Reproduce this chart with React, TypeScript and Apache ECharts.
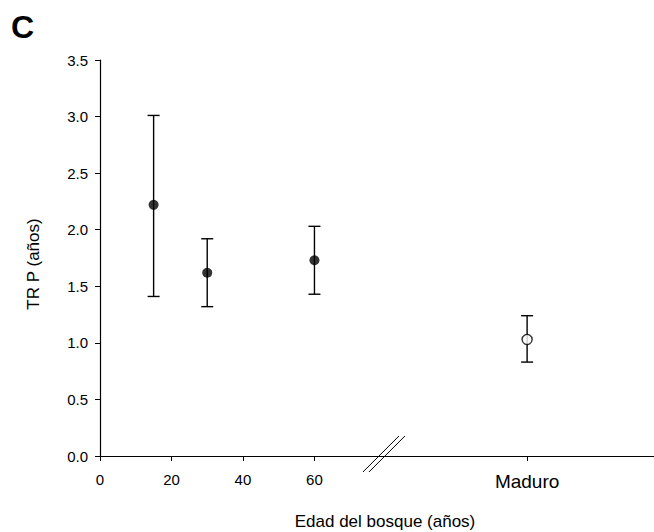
import React, { useEffect, useRef } from "react";
import * as echarts from "echarts";

// Data
const ages = [15, 30, 60];
const youngMean = [2.22, 1.62, 1.73];
const youngLow = [1.41, 1.32, 1.43];
const youngHigh = [3.01, 1.92, 2.03];
const maduroPos = 119.5;
const maduroMean = [1.03];
const maduroLow = [0.83];
const maduroHigh = [1.24];
const xTickValues = [0, 20, 40, 60, maduroPos];
const breakAt = 80;

const FONT = "Liberation Sans, Arial, Helvetica, sans-serif";

export default function App() {
  const ref = useRef<HTMLDivElement>(null);
  useEffect(() => {
    document.body.style.margin = "0";
    const chart = echarts.init(ref.current!, undefined, { renderer: "svg" });

    const errData = [
      ...ages.map((a, i) => [a, youngLow[i], youngHigh[i]]),
      [maduroPos, maduroLow[0], maduroHigh[0]],
    ];

    const renderErr = (params: any, api: any) => {
      const x = api.value(0);
      const lo = api.coord([x, api.value(1)]);
      const hi = api.coord([x, api.value(2)]);
      const w = 6;
      const st = { stroke: "#000", lineWidth: 1.4 };
      return {
        type: "group",
        children: [
          { type: "line", shape: { x1: lo[0], y1: lo[1], x2: hi[0], y2: hi[1] }, style: st },
          { type: "line", shape: { x1: lo[0] - w, y1: lo[1], x2: lo[0] + w, y2: lo[1] }, style: st },
          { type: "line", shape: { x1: hi[0] - w, y1: hi[1], x2: hi[0] + w, y2: hi[1] }, style: st },
        ],
      };
    };

    const texts = [
      {
        type: "text",
        left: 11,
        top: 11,
        style: { text: "C", font: `bold 32px ${FONT}`, fill: "#000" },
      },
      {
        type: "text",
        x: 33,
        y: 264,
        rotation: Math.PI / 2,
        style: {
          text: "TR P (años)",
          font: `17px ${FONT}`,
          fill: "#000",
          align: "center",
          verticalAlign: "middle",
        },
      },
      {
        type: "text",
        x: 385,
        y: 521,
        style: {
          text: "Edad del bosque (años)",
          font: `17px ${FONT}`,
          fill: "#000",
          align: "center",
          verticalAlign: "middle",
        },
      },
    ];

    chart.setOption({
      animation: false,
      backgroundColor: "#fff",
      grid: { left: 100, right: 0, top: 60, bottom: 76, containLabel: false },
      xAxis: {
        type: "value",
        min: 0,
        max: 155,
        axisLine: { show: true, lineStyle: { color: "#000", width: 1.2 } },
        axisTick: { show: true, customValues: xTickValues, length: 5, lineStyle: { color: "#000" } },
        axisLabel: {
          customValues: xTickValues,
          margin: 16,
          color: "#000",
          fontFamily: FONT,
          fontSize: 15,
          formatter: (v: number) => (v === maduroPos ? "{m|Maduro}" : String(v)),
          rich: { m: { fontSize: 19, fontFamily: FONT, color: "#000" } },
        },
        splitLine: { show: false },
      },
      yAxis: {
        type: "value",
        min: 0,
        max: 3.5,
        interval: 0.5,
        axisLine: { show: true, lineStyle: { color: "#000", width: 1.2 } },
        axisTick: { show: true, length: 5, lineStyle: { color: "#000" } },
        axisLabel: {
          margin: 12,
          color: "#000",
          fontFamily: FONT,
          fontSize: 15,
          formatter: (v: number) => v.toFixed(1),
        },
        splitLine: { show: false },
      },
      series: [
        {
          type: "custom",
          renderItem: renderErr,
          data: errData,
          encode: { x: 0, y: [1, 2] },
          z: 1,
        },
        {
          type: "scatter",
          data: ages.map((a, i) => [a, youngMean[i]]),
          symbol: "circle",
          symbolSize: 10,
          itemStyle: { color: "#000" },
          z: 3,
        },
        {
          type: "scatter",
          data: [[maduroPos, maduroMean[0]]],
          symbol: "circle",
          symbolSize: 10,
          itemStyle: { color: "#fff", borderColor: "#000", borderWidth: 1.4 },
          z: 3,
        },
      ],
      graphic: texts,
    });

    const p = chart.convertToPixel({ gridIndex: 0 }, [breakAt, 0]) as number[];
    const bx = p[0];
    const by = p[1];
    chart.setOption({
      graphic: [
        ...texts,
        {
          type: "line",
          shape: { x1: bx - 23, y1: by + 16, x2: bx + 13, y2: by - 20 },
          style: { stroke: "#000", lineWidth: 1 },
          z: 10,
        },
        {
          type: "line",
          shape: { x1: bx - 17, y1: by + 16, x2: bx + 19, y2: by - 20 },
          style: { stroke: "#000", lineWidth: 1 },
          z: 10,
        },
      ],
    });

    return () => chart.dispose();
  }, []);
  return <div ref={ref} style={{ width: 654, height: 532 }} />;
}
